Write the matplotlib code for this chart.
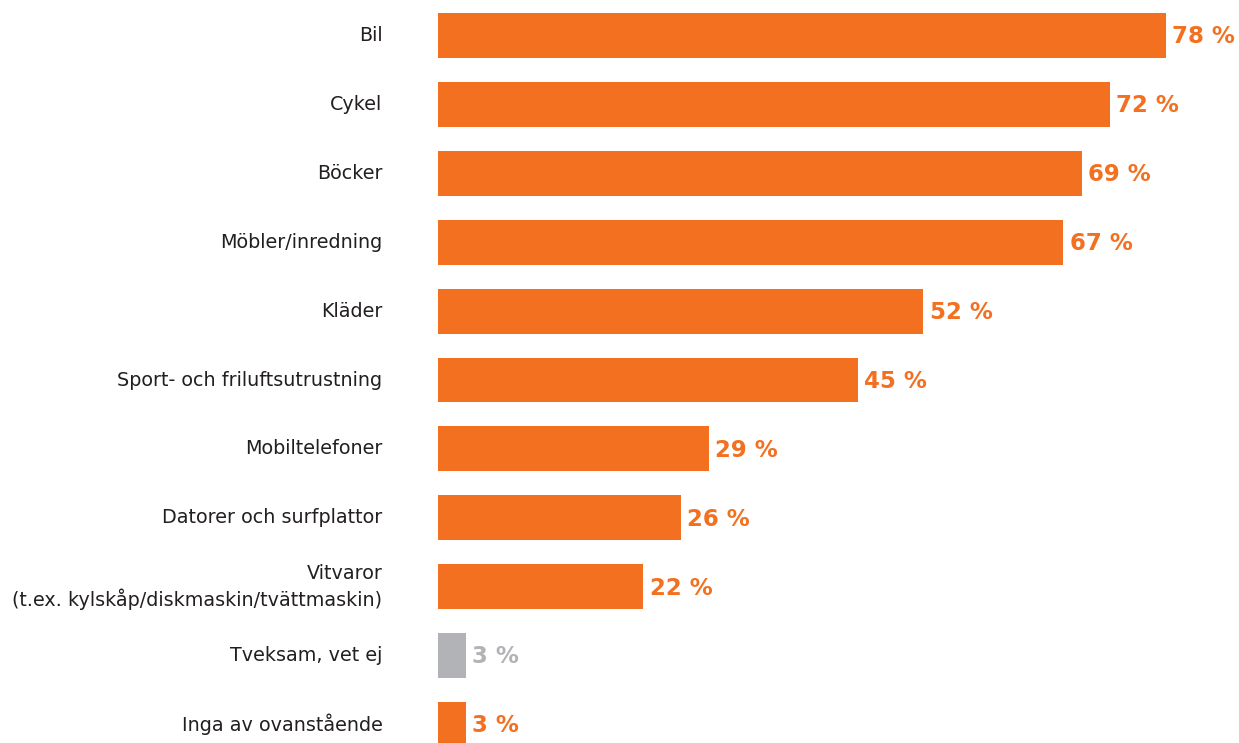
import numpy as np
import matplotlib.pyplot as plt

categories = ['Bil', 'Cykel', 'Böcker', 'Möbler/inredning', 'Kläder',
              'Sport- och friluftsutrustning', 'Mobiltelefoner',
              'Datorer och surfplattor',
              'Vitvaror\n(t.ex. kylskåp/diskmaskin/tvättmaskin)',
              'Tveksam, vet ej', 'Inga av ovanstående']
values = [78, 72, 69, 67, 52, 45, 29, 26, 22, 3, 3]
value_labels = [f'{v} %' for v in values]

ORANGE = '#F37021'
GREY = '#B2B3B7'
colors = [GREY if c == 'Tveksam, vet ej' else ORANGE for c in categories]

plt.rcParams['font.family'] = ['DejaVu Sans']

fig = plt.figure(figsize=(12.39, 7.43), dpi=100)
ax = fig.add_axes([438 / 1239, 0, 1 - 438 / 1239, 1])

y = np.arange(len(categories))
ax.barh(y, values, height=0.653, color=colors)

for yi, v, lab, c in zip(y, values, value_labels, colors):
    ax.annotate(lab, (v, yi), xytext=(4.5, -1), textcoords='offset points',
                va='center', ha='left', fontsize=16.5, fontweight='bold', color=c)

ax.set_xlim(0, (1239 - 438) / 9.333)
ax.set_ylim((743 - 35.5) / 68.9, -35.5 / 68.9)
ax.set_yticks(y, categories, fontsize=13.8, color='#231F20', linespacing=1.33)
for t in ax.get_yticklabels():
    t.set_va('center')
ax.tick_params(axis='y', length=0, pad=40)
ax.set_xticks([])
for s in ax.spines.values():
    s.set_visible(False)

fig.savefig('out.png', dpi=100)
